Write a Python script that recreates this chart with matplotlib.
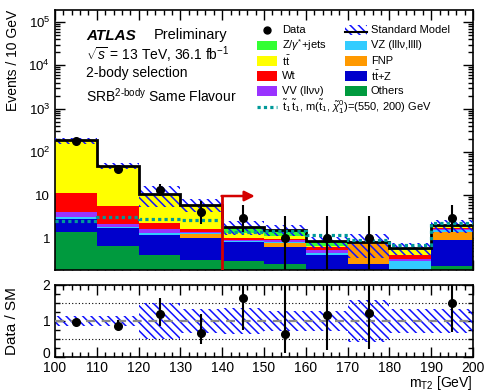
import math
import numpy as np
import matplotlib
matplotlib.use("Agg")
import matplotlib.pyplot as plt
import matplotlib.transforms as mtransforms
from matplotlib.patches import Rectangle
from matplotlib.lines import Line2D
from matplotlib.ticker import MultipleLocator, FixedLocator, LogLocator, NullFormatter

plt.rcParams['font.family'] = ['Liberation Sans', 'DejaVu Sans']
plt.rcParams['mathtext.fontset'] = 'custom'
plt.rcParams['mathtext.rm'] = 'Liberation Sans'
plt.rcParams['mathtext.it'] = 'Liberation Sans:italic'
plt.rcParams['mathtext.bf'] = 'Liberation Sans:bold'
plt.rcParams['mathtext.sf'] = 'Liberation Sans'
plt.rcParams['hatch.linewidth'] = 1.1

# ---------------- data ----------------
bin_edges = [100, 110, 120, 130, 140, 150, 160, 170, 180, 190, 200]
data_counts = [180, 41, 13, 4, 3, 1, 1, 1, 0, 3]

# background components, listed from bottom of the stack to the top
bkg_others = [1.40, 0.65, 0.42, 0.31, 0.30, 0.26, 0.02, 0.00, 0.00, 0.23]
bkg_ttz    = [1.45, 1.10, 0.80, 0.69, 0.50, 0.37, 0.38, 0.26, 0.03, 0.67]
bkg_fnp    = [0.00, 0.00, 0.00, 0.28, 0.00, 0.15, 0.00, 0.50, 0.00, 0.50]
bkg_vz     = [0.25, 0.10, 0.12, 0.03, 0.05, 0.02, 0.06, 0.02, 0.27, 0.17]
bkg_vv     = [0.95, 0.25, 0.26, 0.06, 0.05, 0.10, 0.07, 0.02, 0.03, 0.08]
bkg_wt     = [7.05, 3.40, 0.60, 0.30, 0.10, 0.05, 0.10, 0.00, 0.09, 0.05]
bkg_tt     = [171.4, 41.3, 8.50, 4.20, 0.30, 0.20, 0.05, 0.02, 0.13, 0.15]
bkg_zjets  = [0.50, 0.20, 0.10, 0.13, 0.54, 0.40, 0.17, 0.00, 0.05, 0.15]

# relative total uncertainty on the SM prediction
sm_rel_unc = [0.15, 0.15, 0.50, 0.33, 0.35, 0.28, 0.28, 0.57, 0.32, 0.33]

# signal benchmark
signal = [2.5, 3.1, 2.8, 2.6, 1.4, 1.5, 1.17, 0.9, 0.69, 2.25]

cut_value = 140.0
cut_arrow_end = 147.8
cut_arrow_height = 9.5

components = [
    (bkg_others, '#009a3e'),
    (bkg_ttz,    '#0000cc'),
    (bkg_fnp,    '#ff9900'),
    (bkg_vz,     '#33ccff'),
    (bkg_vv,     '#9933ff'),
    (bkg_wt,     '#ff0000'),
    (bkg_tt,     '#ffff00'),
    (bkg_zjets,  '#33ff33'),
]

edges = np.array(bin_edges, dtype=float)
centers = 0.5 * (edges[:-1] + edges[1:])
widths = np.diff(edges)
sm_total = np.sum([np.array(c[0]) for c in components], axis=0)
rel = np.array(sm_rel_unc)
counts = np.array(data_counts, dtype=float)


def poisson_cdf(k, lam):
    if k < 0:
        return 0.0
    s = 0.0
    for i in range(int(k) + 1):
        s += math.exp(i * math.log(lam) - lam - math.lgamma(i + 1))
    return s


def garwood(n, alpha=0.158655):
    def bisect(f, lo, hi):
        for _ in range(200):
            mid = 0.5 * (lo + hi)
            if f(mid) > 0:
                lo = mid
            else:
                hi = mid
        return 0.5 * (lo + hi)
    hi_lim = n + 10 * math.sqrt(n + 1) + 10
    up = bisect(lambda l: poisson_cdf(n, l) - alpha, 1e-9, hi_lim)
    if n == 0:
        low = 0.0
    else:
        low = bisect(lambda l: alpha - (1 - poisson_cdf(n - 1, l)), 1e-9, hi_lim)
    return low, up


err_lo = np.zeros(len(counts))
err_hi = np.zeros(len(counts))
for i, n in enumerate(data_counts):
    lo, up = garwood(n)
    err_lo[i] = n - lo
    err_hi[i] = up - n

# ---------------- figure ----------------
W, H = 485, 392
fig = plt.figure(figsize=(W / 100, H / 100), dpi=100)


def fx(x):
    return x / W


def fy(y):
    return 1 - y / H


ax = fig.add_axes([fx(55), fy(269.5), fx(473) - fx(55), fy(9.5) - fy(269.5)])
axr = fig.add_axes([fx(55), fy(357), fx(473) - fx(55), fy(285) - fy(357)])

ymin, ymax = 0.19, 1.95e5
ax.set_yscale('log')
ax.set_xlim(100, 200)
ax.set_ylim(ymin, ymax)

# stacked backgrounds
cum = np.full(len(centers), 1e-3)
for vals, col in components:
    v = np.array(vals)
    ax.bar(centers, v, width=widths, bottom=cum, color=col, linewidth=0, zorder=2)
    cum = cum + v

# uncertainty band
hatch_col = '#1010ff'
band_hatch = '\\\\\\\\'
ax.bar(centers, 2 * rel * sm_total, width=widths, bottom=sm_total * (1 - rel),
       fill=False, hatch=band_hatch, edgecolor=hatch_col, linewidth=0, zorder=3)

# SM total
ax.stairs(sm_total, edges, baseline=None, color='black', lw=2.0, zorder=4)

# signal
ax.stairs(signal, edges, baseline=None, color='#009999', lw=2.3,
          linestyle=(0, (1, 1)), zorder=5)

# cut arrow
arrow_col = '#d40000'
ax.plot([cut_value, cut_value], [ymin, cut_arrow_height], color=arrow_col, lw=2, zorder=6,
        solid_capstyle='butt')
ax.annotate('', xy=(cut_arrow_end, cut_arrow_height), xytext=(cut_value - 0.15, cut_arrow_height),
            arrowprops=dict(arrowstyle='-|>,head_length=0.6,head_width=0.3',
                            color=arrow_col, lw=1.8, shrinkA=0, shrinkB=0), zorder=6)

# data
m = counts > 0
ax.errorbar(centers[m], counts[m], yerr=[err_lo[m], err_hi[m]], fmt='o', color='black',
            ms=5.5, elinewidth=1.5, capsize=0, zorder=7)

# axes styling
for a in (ax, axr):
    a.tick_params(which='both', direction='in', top=True, right=True, width=1)
    a.tick_params(which='major', length=7)
    a.tick_params(which='minor', length=3.5)
    for s in a.spines.values():
        s.set_linewidth(1.2)

ax.xaxis.set_major_locator(MultipleLocator(10))
ax.xaxis.set_minor_locator(MultipleLocator(2))
ax.set_xticklabels([])
ax.yaxis.set_major_locator(FixedLocator([1, 10, 100, 1e3, 1e4, 1e5]))
ax.set_yticklabels(['1', '10', r'$10^{2}$', r'$10^{3}$', r'$10^{4}$', r'$10^{5}$'], fontsize=9.5)
ax.yaxis.set_minor_locator(LogLocator(base=10, subs=np.arange(2, 10), numticks=20))
ax.yaxis.set_minor_formatter(NullFormatter())
ax.set_ylabel('Events / 10 GeV', fontsize=10, loc='top', labelpad=6)

# ratio panel
axr.set_xlim(100, 200)
axr.set_ylim(0, 2)
ratio = np.where(sm_total > 0, counts / sm_total, 0)
axr.bar(centers, 2 * rel, width=widths, bottom=1 - rel, fill=False, hatch=band_hatch,
        edgecolor=hatch_col, linewidth=0, zorder=2)
for yv in (0.5, 1.5, 2.0):
    axr.axhline(yv, color='black', lw=0.8, linestyle=(0, (1, 2)), zorder=1)
axr.axhline(1.0, color='#888888', lw=1.6, linestyle=(0, (4, 3)), zorder=3)
axr.errorbar(centers[m], ratio[m], yerr=[err_lo[m] / sm_total[m], err_hi[m] / sm_total[m]],
             fmt='o', color='black', ms=5.5, elinewidth=1.5, capsize=0, zorder=5)
axr.xaxis.set_major_locator(MultipleLocator(10))
axr.xaxis.set_minor_locator(MultipleLocator(2))
axr.yaxis.set_major_locator(FixedLocator([0, 1, 2]))
axr.yaxis.set_minor_locator(MultipleLocator(0.25))
axr.tick_params(axis='both', labelsize=10)
axr.tick_params(axis='x', pad=3)
axr.set_ylabel('Data / SM', fontsize=11, labelpad=8)
axr.yaxis.set_label_coords(-0.085, 0.5)
axr.set_xlabel(r'm$_{\mathrm{T2}}$ [GeV]', fontsize=10, ha='right', va='top')
axr.xaxis.set_label_coords(1.0, -0.235)

# lift the lowest ratio label a little so it clears the first x label
fig.canvas.draw()
zero_label = axr.get_yticklabels()[0]
zero_label.set_transform(zero_label.get_transform() +
                         mtransforms.ScaledTranslation(0, 3 / 72, fig.dpi_scale_trans))

# annotations
fig.text(fx(86), fy(35.5), 'ATLAS', fontsize=11, fontweight='bold', fontstyle='italic',
         va='center', ha='left')
fig.text(fx(154), fy(35.5), 'Preliminary', fontsize=10.5, va='center', ha='left')
fig.text(fx(86), fy(55), r'$\sqrt{s}$ = 13 TeV, 36.1 fb$^{-1}$', fontsize=10, va='center', ha='left')
fig.text(fx(86), fy(73), '2-body selection', fontsize=10, va='center', ha='left')
fig.text(fx(86), fy(96), r'SRB$^{\mathrm{2\text{-}body}}$ Same Flavour', fontsize=10,
         va='center', ha='left')

# legend
leg_fs = 8
rows_y = [30, 45.5, 61, 76, 91, 107]
c1_x0, c1_x1, c1_tx = 257, 277, 282
c2_x0, c2_x1, c2_tx = 345, 367, 371
box_h = 9.5


def legend_box(x0, x1, y, color=None, hatch=None):
    r = Rectangle((fx(x0), fy(y + box_h / 2)), fx(x1) - fx(x0), fy(y - box_h / 2) - fy(y + box_h / 2),
                  transform=fig.transFigure, facecolor=color if color else 'none',
                  edgecolor=hatch_col if hatch else 'none', hatch=hatch, linewidth=0)
    fig.add_artist(r)


fig.add_artist(Line2D([fx(267)], [fy(rows_y[0])], marker='o', color='black', ms=5,
                      transform=fig.transFigure))
fig.text(fx(c1_tx), fy(rows_y[0]), 'Data', fontsize=leg_fs, va='center')
legend_box(c2_x0, c2_x1, rows_y[0], hatch=band_hatch)
fig.add_artist(Line2D([fx(c2_x0), fx(c2_x1)], [fy(rows_y[0] + 2), fy(rows_y[0] + 2)],
                      color='black', lw=1.5, transform=fig.transFigure))
fig.text(fx(c2_tx), fy(rows_y[0]), 'Standard Model', fontsize=leg_fs, va='center')

left_entries = [('#33ff33', r'Z/$\gamma^{*}$+jets'), ('#ffff00', r'$\mathrm{t}\bar{\mathrm{t}}$'),
                ('#ff0000', 'Wt'), ('#9933ff', 'VV (llνν)')]
right_entries = [('#33ccff', 'VZ (lllν,llll)'), ('#ff9900', 'FNP'),
                 ('#0000cc', r'$\mathrm{t}\bar{\mathrm{t}}$+Z'), ('#009a3e', 'Others')]
for i, (col, lab) in enumerate(left_entries):
    y = rows_y[i + 1]
    legend_box(c1_x0, c1_x1, y, color=col)
    fig.text(fx(c1_tx), fy(y), lab, fontsize=leg_fs, va='center')
for i, (col, lab) in enumerate(right_entries):
    y = rows_y[i + 1]
    legend_box(c2_x0, c2_x1, y, color=col)
    fig.text(fx(c2_tx), fy(y), lab, fontsize=leg_fs, va='center')

fig.add_artist(Line2D([fx(c1_x0), fx(c1_x1)], [fy(rows_y[5]), fy(rows_y[5])], color='#009999',
                      lw=2.3, linestyle=(0, (1, 1)), transform=fig.transFigure))
fig.text(fx(c1_tx), fy(rows_y[5]),
         r'$\tilde{\mathrm{t}}_1\,\tilde{\mathrm{t}}_1$, m($\tilde{\mathrm{t}}_1$, $\tilde{\chi}^0_1$)=(550, 200) GeV',
         fontsize=leg_fs, va='center')

fig.savefig('out.png', dpi=100)
